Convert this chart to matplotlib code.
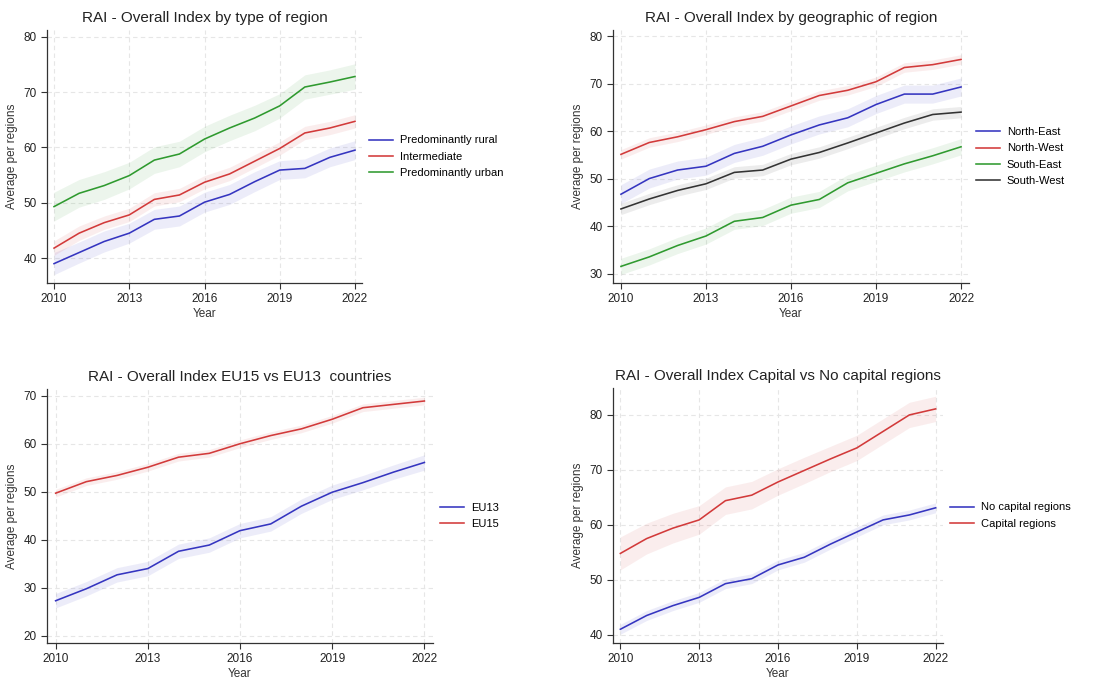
import numpy as np
import matplotlib
matplotlib.use('Agg')
import matplotlib.pyplot as plt

plt.rcParams['font.family'] = ['Liberation Sans', 'DejaVu Sans']

years = list(range(2010, 2023))
xticks = [2010, 2013, 2016, 2019, 2022]

# panel 1 - type of region
rural = [39.0, 41.0, 43.0, 44.5, 47.0, 47.6, 50.1, 51.5, 53.8, 55.9, 56.2, 58.2, 59.5]
rural_ci = [2.0, 1.9, 1.9, 1.8, 1.8, 1.8, 1.8, 1.8, 1.8, 1.7, 1.7, 1.7, 1.7]
intermediate = [41.8, 44.5, 46.4, 47.8, 50.6, 51.4, 53.7, 55.2, 57.5, 59.8, 62.6, 63.5, 64.7]
intermediate_ci = [1.3, 1.3, 1.2, 1.2, 1.2, 1.2, 1.2, 1.2, 1.2, 1.2, 1.2, 1.2, 1.2]
urban = [49.3, 51.7, 53.1, 54.9, 57.7, 58.8, 61.5, 63.5, 65.3, 67.5, 70.9, 71.8, 72.8]
urban_ci = [2.6, 2.5, 2.5, 2.4, 2.4, 2.3, 2.3, 2.3, 2.3, 2.2, 2.2, 2.2, 2.3]

# panel 2 - geographic
north_east = [46.7, 50.0, 51.8, 52.6, 55.3, 56.8, 59.2, 61.3, 62.8, 65.6, 67.8, 67.8, 69.3]
north_east_ci = [2.0, 2.0, 1.9, 1.9, 1.9, 1.9, 1.9, 1.9, 1.9, 1.9, 1.9, 1.9, 1.9]
north_west = [55.1, 57.6, 58.8, 60.3, 62.0, 63.1, 65.3, 67.5, 68.6, 70.4, 73.4, 74.0, 75.1]
north_west_ci = [1.0, 1.0, 1.0, 1.0, 1.0, 1.0, 1.0, 1.0, 1.0, 1.0, 1.0, 1.0, 1.0]
south_east = [31.5, 33.5, 35.9, 37.9, 41.0, 41.8, 44.4, 45.6, 49.1, 51.1, 53.1, 54.8, 56.7]
south_east_ci = [1.7, 1.7, 1.7, 1.7, 1.7, 1.7, 1.7, 1.7, 1.7, 1.7, 1.7, 1.7, 1.7]
south_west = [43.6, 45.7, 47.5, 48.9, 51.3, 51.8, 54.1, 55.5, 57.5, 59.6, 61.7, 63.5, 64.0]
south_west_ci = [1.2, 1.2, 1.2, 1.2, 1.2, 1.2, 1.2, 1.2, 1.2, 1.2, 1.2, 1.2, 1.2]

# panel 3 - EU15 vs EU13
eu13 = [27.3, 29.8, 32.7, 34.0, 37.6, 38.9, 41.9, 43.3, 47.0, 49.9, 51.9, 54.1, 56.1]
eu13_ci = [1.5, 1.5, 1.5, 1.5, 1.5, 1.5, 1.5, 1.5, 1.5, 1.5, 1.5, 1.5, 1.6]
eu15 = [49.7, 52.1, 53.4, 55.1, 57.2, 58.0, 60.0, 61.7, 63.1, 65.1, 67.5, 68.2, 68.9]
eu15_ci = [0.8, 0.8, 0.8, 0.8, 0.8, 0.8, 0.8, 0.8, 0.8, 0.8, 0.8, 0.8, 0.8]

# panel 4 - capital
no_capital = [41.0, 43.5, 45.3, 46.8, 49.3, 50.2, 52.7, 54.1, 56.5, 58.7, 60.9, 61.8, 63.1]
no_capital_ci = [0.9, 0.9, 0.9, 0.9, 0.9, 0.9, 0.9, 0.9, 0.9, 0.9, 0.9, 0.9, 0.9]
capital = [54.8, 57.5, 59.4, 60.9, 64.4, 65.4, 67.8, 69.9, 72.0, 74.0, 77.0, 80.0, 81.1]
capital_ci = [3.0, 2.8, 2.7, 2.6, 2.5, 2.5, 2.4, 2.4, 2.3, 2.3, 2.3, 2.3, 2.3]

BLUE = '#3535c0'
RED = '#d23a3a'
GREEN = '#2f9a2f'
BLACK = '#333333'

W, H = 1110, 680
fig = plt.figure(figsize=(W / 100, H / 100), dpi=100)


def make_ax(l, t, r, b):
    return fig.add_axes([l / W, 1 - b / H, (r - l) / W, (b - t) / H])


def panel(ax, series, title, ylim, yticks):
    x = np.array(years)
    for vals, ci, col, lab in series:
        v = np.array(vals)
        c = np.array(ci)
        ax.fill_between(x, v - c, v + c, color=col, alpha=0.09, lw=0)
        ax.plot(x, v, color=col, lw=1.15, label=lab)
    ax.set_xlim(2009.72, 2022.28)
    ax.set_ylim(*ylim)
    ax.set_xticks(xticks)
    ax.set_yticks(yticks)
    ax.grid(True, ls=(0, (4, 3)), color='#e6e6e6', lw=0.8)
    ax.set_axisbelow(True)
    for s in ['top', 'right']:
        ax.spines[s].set_visible(False)
    for s in ['left', 'bottom']:
        ax.spines[s].set_color('#333333')
        ax.spines[s].set_linewidth(0.9)
    ax.tick_params(labelsize=8.5, length=4, color='#333333', labelcolor='#222222')
    ax.set_xlabel('Year', fontsize=8.5, color='#333333', labelpad=2)
    ax.set_ylabel('Average per regions', fontsize=8.5, color='#333333')
    ax.set_title(title, fontsize=11, color='#222222', pad=6)
    ax.legend(loc='center left', bbox_to_anchor=(1.0, 0.5), frameon=False,
              fontsize=8, handlelength=2.2, handletextpad=0.6,
              labelspacing=0.55, borderaxespad=0.2)


ax1 = make_ax(47, 30, 362, 283)
panel(ax1, [(rural, rural_ci, BLUE, 'Predominantly rural'),
            (intermediate, intermediate_ci, RED, 'Intermediate'),
            (urban, urban_ci, GREEN, 'Predominantly urban')],
      'RAI - Overall Index by type of region', (35.5, 81.2), [40, 50, 60, 70, 80])

ax2 = make_ax(613, 30, 969, 283)
panel(ax2, [(north_east, north_east_ci, BLUE, 'North-East'),
            (north_west, north_west_ci, RED, 'North-West'),
            (south_east, south_east_ci, GREEN, 'South-East'),
            (south_west, south_west_ci, BLACK, 'South-West')],
      'RAI - Overall Index by geographic of region', (28.0, 81.3), [30, 40, 50, 60, 70, 80])

ax3 = make_ax(47, 389, 433, 643)
panel(ax3, [(eu13, eu13_ci, BLUE, 'EU13'),
            (eu15, eu15_ci, RED, 'EU15')],
      'RAI - Overall Index EU15 vs EU13  countries', (18.5, 71.4), [20, 30, 40, 50, 60, 70])

ax4 = make_ax(613, 388, 943, 643)
panel(ax4, [(no_capital, no_capital_ci, BLUE, 'No capital regions'),
            (capital, capital_ci, RED, 'Capital regions')],
      'RAI - Overall Index Capital vs No capital regions', (38.5, 84.9), [40, 50, 60, 70, 80])

fig.savefig('out.png', dpi=100, facecolor='white')
